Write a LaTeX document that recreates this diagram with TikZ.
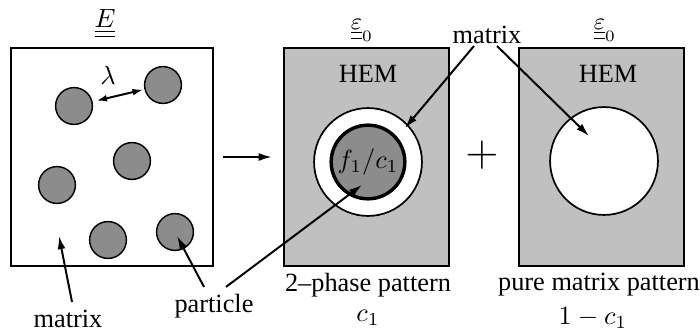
\documentclass[tikz,border=0pt]{standalone}
\usepackage{fontspec}
\setmainfont{Liberation Serif}
\usetikzlibrary{arrows.meta, positioning}
\definecolor{cpart}{RGB}{140,140,140}
\definecolor{chem}{RGB}{192,192,192}

\begin{document}
\begin{tikzpicture}[
  x=0.38pt, y=-0.38pt,
  rve/.style    = {rectangle, draw, line width=0.8pt, inner sep=0pt,
                   minimum width=#1, minimum height=82.8pt},
  incl/.style   = {circle, draw, line width=0.55pt, fill=cpart,
                   minimum size=14pt, inner sep=0pt},
  ring/.style   = {circle, draw, line width=0.65pt, fill=white,
                   minimum size=41pt, inner sep=0pt},
  core/.style   = {circle, draw, line width=1.3pt, fill=cpart,
                   minimum size=28pt, inner sep=0pt},
  arr/.style    = {-{Latex[length=5pt, width=3pt]}, line width=0.75pt},
  dblarr/.style = {{Latex[length=4pt, width=2.6pt]}-{Latex[length=4pt, width=2.6pt]},
                   line width=0.75pt},
  lbl/.style    = {inner sep=1pt},
]
\useasboundingbox (0,0) rectangle (700,332);

%% --- Real microstructure ---
\node[rve=76.8pt, fill=white] (rve)  at (112,157) {};
\node[lbl] (elbl) at (105,24) {$\underline{\underline{E}}$};
\node[incl] (p1) at (74,106)  {};
\node[incl] (p2) at (163,85)  {};
\node[incl] (p3) at (132,161) {};
\node[incl] (p4) at (57,185)  {};
\node[incl] (p5) at (108,240) {};
\node[incl] (p6) at (175,232) {};
\node[lbl] (lam) at (108,75) {$\lambda$};

%% --- 2-phase pattern ---
\node[rve=62.7pt, fill=chem] (twoph) at (366.5,157) {};
\node[lbl, font=\small] (eps1) at (362,30)
     {$\underline{\underline{\varepsilon}}_0$};
\node[lbl] (hem1) at (368,74) {HEM};
\node[ring] (shell) at (368,162) {};
\node[core] (incore) at (368,162) {$f_1/c_1$};

%% --- pure matrix pattern ---
\node[rve=62.7pt, fill=chem] (pure) at (601.5,157) {};
\node[lbl, font=\small] (eps2) at (605,30)
     {$\underline{\underline{\varepsilon}}_0$};
\node[lbl] (hem2) at (608,74) {HEM};
\node[ring] (hole) at (604,161) {};

\node[font=\LARGE] (plus) at (482,155) {$+$};

%% --- Labels ---
\node[lbl] (mtxL)  at (68,319)  {matrix};
\node[lbl] (mtxT)  at (487,35)  {matrix};
\node[lbl] (partl) at (214,306) {particle};
\node[lbl] (twolb) at (368,285) {2--phase pattern};
\node[lbl] (c1lb)  at (368,318) {$c_1$};
\node[lbl] (purlb) at (599,285) {pure matrix pattern};
\node[lbl] (c2lb)  at (593,318) {$1-c_1$};

\coordinate (tipL)  at (59,236);
\coordinate (tipP)  at (177,236);
\coordinate (tipC)  at (362,185);
\coordinate (tipS)  at (405,128);
\coordinate (tipH)  at (589,136);

%% --- Arrows ---
\draw[dblarr, shorten <=1.5pt, shorten >=0.5pt] (p1) -- (p2);
\draw[arr, shorten <=3.4pt, shorten >=4.2pt] (rve) -- (twoph);
\draw[arr] ([shift={(4,-5)}]mtxL.north) -- (tipL);
\draw[arr] ([shift={(-10,-4)}]partl.north) -- (tipP);
\draw[arr] ([shift={(12,-4)}]partl.north) -- (tipC);
\draw[arr] ([shift={(-13,-1)}]mtxT.south) -- (tipS);
\draw[arr] ([shift={(10,-1)}]mtxT.south) -- (tipH);

\end{tikzpicture}
\end{document}
